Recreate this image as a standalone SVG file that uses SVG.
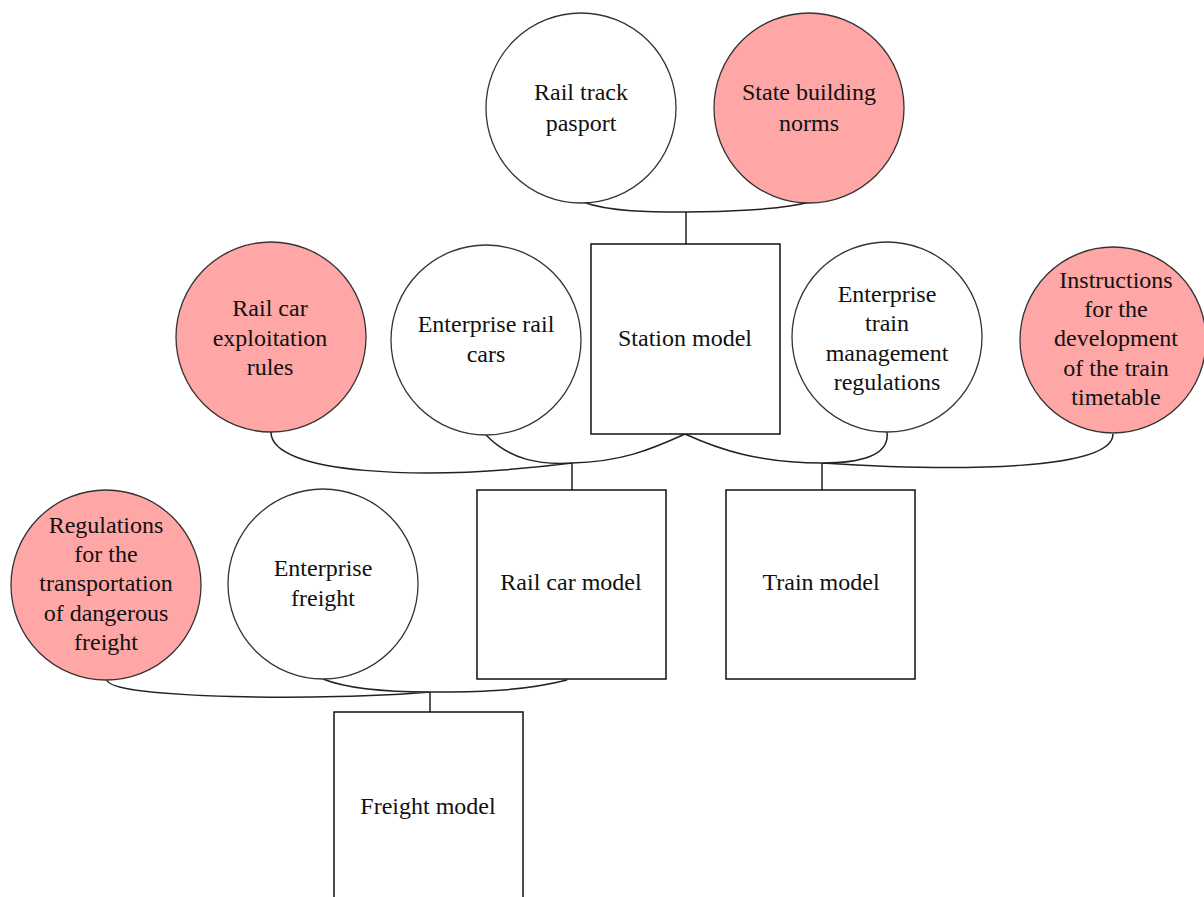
<svg xmlns="http://www.w3.org/2000/svg" width="1204" height="897" viewBox="0 0 1204 897">
<style>
.c{fill:#fff;stroke:#333;stroke-width:1.3}
.p{fill:#ffa6a6;stroke:#333;stroke-width:1.3}
.r{fill:#fff;stroke:#111;stroke-width:1.5}
.t{font-family:"Liberation Serif","Times New Roman",serif;font-size:24px;fill:#111;text-anchor:middle}
.e{fill:none;stroke:#222;stroke-width:1.5}
</style>
<rect width="1204" height="897" fill="#fff"/>
<g id="connectors">
<path class="e" d="M583 202 C610 212 650 212 686 212 M810 202 C780 210 720 212 686 212 M686 212 V244"/>
<path class="e" d="M271 432 C271 474 420 482 572 463 M486 435 C510 460 540 465 572 463 M685 434 C650 450 620 462 572 463 M572 463 V490"/>
<path class="e" d="M685 434 C720 450 760 463 822 463 M887 432 C890 456 860 463 822 463 M1113 434 C1113 470 960 472 822 463 M822 463 V490"/>
<path class="e" d="M107 680 C110 699 330 701 430 692 M323 679 C350 690 390 692 430 692 M567 680 C520 692 470 692 430 692 M430 692 V712"/>
</g>
<g id="rail-track-pasport"><circle class="c" cx="581" cy="108" r="95"/><text class="t" x="581" y="100">Rail track</text><text class="t" x="581" y="131">pasport</text></g>
<g id="state-building-norms"><circle class="p" cx="809" cy="108" r="95"/><text class="t" x="809" y="100">State building</text><text class="t" x="809" y="131">norms</text></g>
<g id="station-model"><rect class="r" x="591" y="244" width="189" height="190"/><text class="t" x="685" y="346">Station model</text></g>
<g id="rail-car-exploitation-rules"><circle class="p" cx="271" cy="337" r="95"/><text class="t" x="270" y="316">Rail car</text><text class="t" x="270" y="346">exploitation</text><text class="t" x="270" y="375">rules</text></g>
<g id="enterprise-rail-cars"><circle class="c" cx="486" cy="340" r="95"/><text class="t" x="486" y="332">Enterprise rail</text><text class="t" x="486" y="362">cars</text></g>
<g id="enterprise-train-management-regulations"><circle class="c" cx="887" cy="337" r="95"/><text class="t" x="887" y="302">Enterprise</text><text class="t" x="887" y="331">train</text><text class="t" x="887" y="361">management</text><text class="t" x="887" y="390">regulations</text></g>
<g id="instructions-train-timetable"><circle class="p" cx="1113" cy="340" r="93"/><text class="t" x="1116" y="288">Instructions</text><text class="t" x="1116" y="317">for the</text><text class="t" x="1116" y="346">development</text><text class="t" x="1116" y="376">of the train</text><text class="t" x="1116" y="405">timetable</text></g>
<g id="rail-car-model"><rect class="r" x="477" y="490" width="189" height="189"/><text class="t" x="571" y="590">Rail car model</text></g>
<g id="train-model"><rect class="r" x="726" y="490" width="189" height="189"/><text class="t" x="821" y="590">Train model</text></g>
<g id="regulations-dangerous-freight"><circle class="p" cx="106" cy="585" r="95"/><text class="t" x="106" y="533">Regulations</text><text class="t" x="106" y="562">for the</text><text class="t" x="106" y="591">transportation</text><text class="t" x="106" y="621">of dangerous</text><text class="t" x="106" y="650">freight</text></g>
<g id="enterprise-freight"><circle class="c" cx="323" cy="584" r="95"/><text class="t" x="323" y="576">Enterprise</text><text class="t" x="323" y="606">freight</text></g>
<g id="freight-model"><rect class="r" x="334" y="712" width="189" height="200"/><text class="t" x="428" y="814">Freight model</text></g>
</svg>
